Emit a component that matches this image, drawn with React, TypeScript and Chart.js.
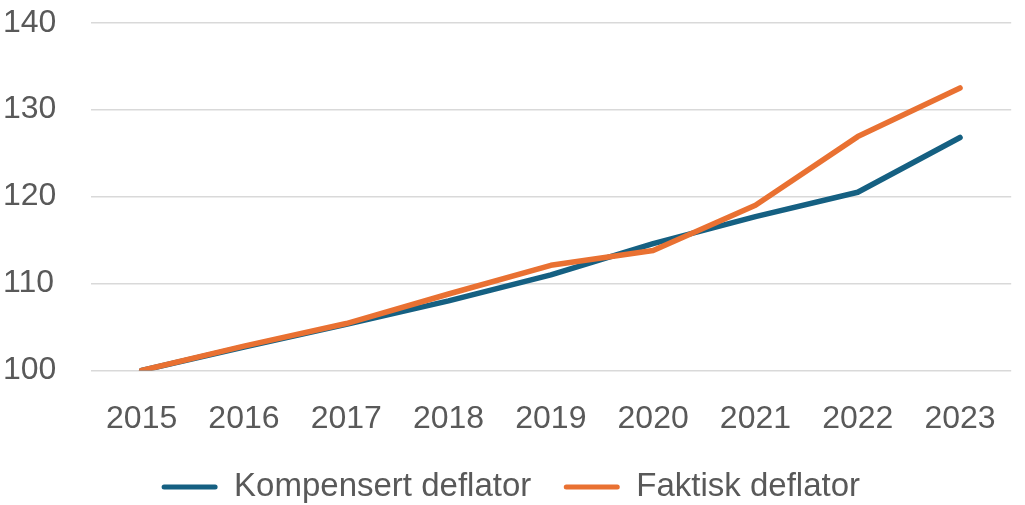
import React, { useEffect, useRef } from "react";
import { Chart, registerables } from "chart.js";

Chart.register(...registerables);

const years = ["2015", "2016", "2017", "2018", "2019", "2020", "2021", "2022", "2023"];
const kompensert = [100, 102.7, 105.3, 108.0, 111.0, 114.6, 117.7, 120.5, 126.8];
const faktisk = [100, 102.8, 105.4, 108.8, 112.1, 113.8, 119.0, 126.9, 132.5];
const seriesNames = ["Kompensert deflator", "Faktisk deflator"];
const yMin = 100;
const yMax = 140;
const yStep = 10;

const BLUE = "#156082";
const ORANGE = "#E97132";
const TEXT = "#595959";
const FONT = "'Liberation Sans', Arial, sans-serif";

export default function App() {
  const ref = useRef<HTMLCanvasElement | null>(null);

  useEffect(() => {
    if (!ref.current) return;
    const chart = new Chart(ref.current, {
      type: "line",
      data: {
        labels: years,
        datasets: [
          {
            label: seriesNames[0],
            data: kompensert,
            borderColor: BLUE,
            backgroundColor: BLUE,
            borderWidth: 5.5,
            pointRadius: 0,
            borderCapStyle: "round",
            borderJoinStyle: "round",
            tension: 0,
            order: 1,
          },
          {
            label: seriesNames[1],
            data: faktisk,
            borderColor: ORANGE,
            backgroundColor: ORANGE,
            borderWidth: 5.5,
            pointRadius: 0,
            borderCapStyle: "round",
            borderJoinStyle: "round",
            tension: 0,
            order: 0,
          },
        ],
      },
      options: {
        animation: false,
        responsive: true,
        maintainAspectRatio: false,
        layout: { padding: { left: 3, right: 6.4, top: 22.7, bottom: 0 } },
        plugins: {
          tooltip: { enabled: false },
          legend: {
            position: "bottom",
            maxHeight: 67,
            labels: {
              font: { family: FONT, size: 33 },
              color: TEXT,
              boxWidth: 56,
              boxHeight: 5,
              padding: 32.5,
              useBorderRadius: true,
              borderRadius: 2.5,
              sort: (a: any, b: any) => a.datasetIndex - b.datasetIndex,
              generateLabels: (c: any) =>
                c.data.datasets.map((ds: any, i: number) => ({
                  text: ds.label,
                  fillStyle: ds.borderColor,
                  strokeStyle: ds.borderColor,
                  lineWidth: 0,
                  hidden: false,
                  datasetIndex: i,
                  borderRadius: 2.5,
                  fontColor: TEXT,
                })),
            },
          },
        },
        scales: {
          x: {
            offset: true,
            grid: { display: false, drawTicks: false },
            border: { display: false },
            ticks: {
              font: { family: FONT, size: 32 },
              color: TEXT,
              padding: 29,
              maxRotation: 0,
              autoSkip: false,
            },
            afterFit: (s: any) => {
              s.height = 67.5;
            },
          },
          y: {
            min: yMin,
            max: yMax,
            grid: { color: "#D9D9D9", lineWidth: 1.5, drawTicks: false },
            border: { display: false },
            ticks: {
              stepSize: yStep,
              font: { family: FONT, size: 32 },
              color: TEXT,
              padding: 0,
              crossAlign: "far",
            },
            afterFit: (s: any) => {
              s.width = 87.5;
            },
          },
        },
      },
    });
    return () => chart.destroy();
  }, []);

  return (
    <div style={{ position: "fixed", left: 0, top: 0, width: 1025, height: 505, background: "#fff" }}>
      <canvas ref={ref} />
    </div>
  );
}
